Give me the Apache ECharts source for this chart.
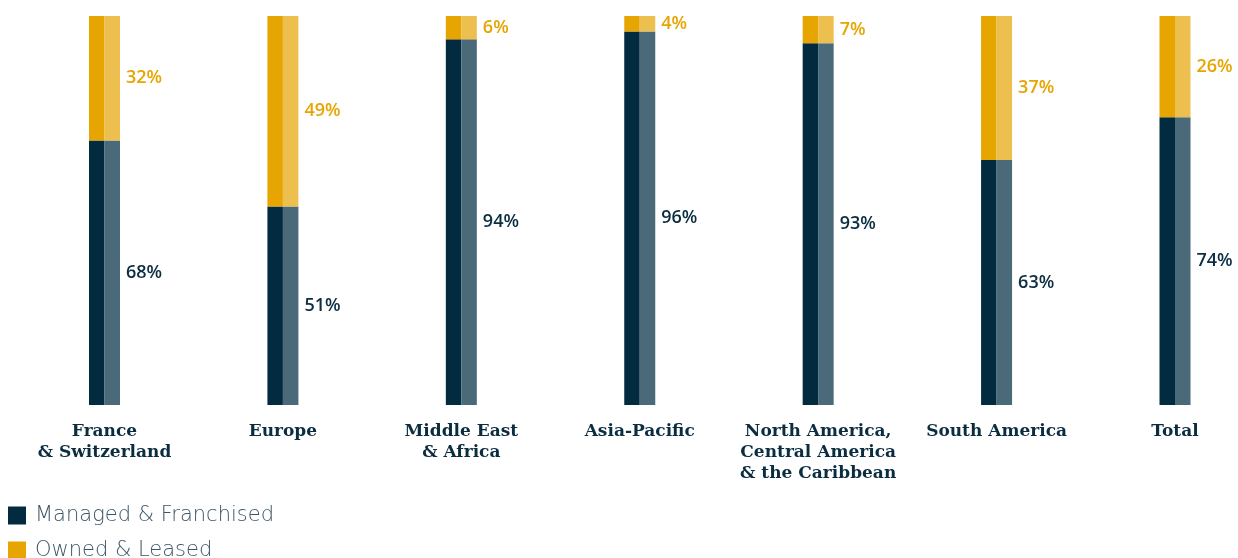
<!DOCTYPE html>
<html>
<head>
<meta charset="utf-8">
<script src="https://cdn.jsdelivr.net/npm/echarts@6/dist/echarts.min.js"></script>
<style>
html,body{margin:0;padding:0;background:#fff;}
#chart{width:1238px;height:558px;}
</style>
</head>
<body>
<div id="chart"></div>
<script>
const categories = ['France\n& Switzerland', 'Europe', 'Middle East\n& Africa', 'Asia-Pacific', 'North America,\nCentral America\n& the Caribbean', 'South America', 'Total'];
const managed = [68, 51, 94, 96, 93, 63, 74];
const owned = [32, 49, 6, 4, 7, 37, 26];
const seriesNames = ['Managed & Franchised', 'Owned & Leased'];

const chart = echarts.init(document.getElementById('chart'), null, {renderer: 'canvas'});
const labelFont = '"Open Sans", "Noto Sans", sans-serif';
function mkSeries(name, data, stack, color, label) {
  return {
    name: name, type: 'bar', stack: stack, data: data,
    barWidth: 15.5, barGap: '0%',
    itemStyle: {color: color},
    label: label ? {show: true, position: 'right', distance: 6, formatter: '{c}%',
      color: label, fontFamily: labelFont, fontWeight: 600, fontSize: 18} : {show: false},
    emphasis: {disabled: true},
    animation: false
  };
}
const legendText = {color: '#3d5567', fontSize: 21, fontFamily: '"DejaVu Sans", sans-serif', fontWeight: 200, padding: [0, 0, 0, 4]};
chart.setOption({
  animation: false,
  grid: {left: 104.5, right: 63, top: 16, bottom: 153, containLabel: false},
  xAxis: {
    type: 'category', data: categories, boundaryGap: false,
    axisLine: {show: false}, axisTick: {show: false},
    axisLabel: {margin: 16, color: '#0b2d40', fontFamily: '"DejaVu Serif", serif', fontWeight: 'bold',
      fontSize: 17, lineHeight: 21, verticalAlign: 'top', interval: 0}
  },
  yAxis: {type: 'value', min: 0, max: 100, show: false},
  legend: [
    {data: [seriesNames[0]], orient: 'vertical', left: 8, top: 505, padding: 0,
     itemWidth: 18, itemHeight: 18, icon: 'rect', selectedMode: false, textStyle: legendText},
    {data: [seriesNames[1]], orient: 'vertical', left: 8, top: 540, padding: 0,
     itemWidth: 18, itemHeight: 18, icon: 'rect', selectedMode: false, textStyle: legendText}
  ],
  series: [
    mkSeries(seriesNames[0], managed, 'a', '#022b3f', null),
    mkSeries(seriesNames[1], owned, 'a', '#e6a500', null),
    mkSeries(seriesNames[0], managed, 'b', '#4a6979', '#0b2d40'),
    mkSeries(seriesNames[1], owned, 'b', '#edbf4f', '#e6a500')
  ]
});
</script>
</body>
</html>
